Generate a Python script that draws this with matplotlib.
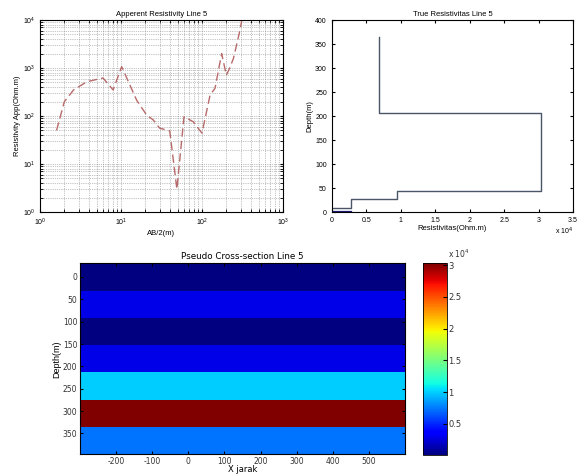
import numpy as np
import matplotlib
matplotlib.use("Agg")
import matplotlib.pyplot as plt
from matplotlib.ticker import FuncFormatter, MultipleLocator

# ---- data ----
ab2 = [1.6, 2.0, 2.6, 3.8, 6.0, 8.0, 10.2, 15.6, 20.7, 25, 30, 40, 49, 60, 78,
       100, 126, 145, 175, 200, 220, 245, 295, 310]
rho_app = [50, 200, 350, 520, 620, 350, 1070, 215, 105, 83, 56, 49, 3, 97, 76,
           44, 275, 380, 2000, 710, 1000, 1600, 6200, 10000]

true_rho = [0, 2800, 9500, 30300, 6900]
layer_depth = [9, 27, 44, 206, 365]
surface_rho = [0, 2800]
surface_depth = [1, 1]

section_x = [-300, 600]
section_depth = [0, 61, 122, 183, 244, 305, 366]
section_rho = [100, 2900, 100, 2900, 9900, 30300, 7300]

plt.rcParams['font.family'] = ['Liberation Sans', 'DejaVu Sans']
plt.rcParams['xtick.direction'] = 'in'
plt.rcParams['ytick.direction'] = 'in'
plt.rcParams['axes.unicode_minus'] = False

fig = plt.figure(figsize=(5.82, 4.74), dpi=100)

# ---- top-left: apparent resistivity ----
ax1 = fig.add_axes([0.0687, 0.5527, 0.4175, 0.405])
ax1.plot(ab2, rho_app, ls=(0, (6, 3)), color='#b86a6a', lw=1.0)
ax1.set_xscale('log')
ax1.set_yscale('log')
ax1.set_xlim(1, 1000)
ax1.set_ylim(1, 10000)
ax1.grid(True, which='both', ls=':', color='#888888', lw=0.5)
ax1.tick_params(labelsize=5, which='both', top=True, right=True, length=2)
ax1.set_title('Apperent Resistivity Line 5', fontsize=5.5, pad=3)
ax1.set_xlabel('AB/2(m)', fontsize=5.5, labelpad=1)
ax1.set_ylabel('Resistivity App(Ohm.m)', fontsize=5.5, labelpad=1)

# ---- top-right: true resistivity ----
ax2 = fig.add_axes([0.570, 0.5527, 0.4146, 0.405])
sx = [true_rho[0]]
sy = [layer_depth[0]]
for i in range(1, len(true_rho)):
    sx += [true_rho[i], true_rho[i]]
    sy += [layer_depth[i - 1], layer_depth[i]]
ax2.plot(sx, sy, color='#4a5568', lw=1.0)
ax2.plot(surface_rho, surface_depth, color='#1a1a70', lw=1.6)
ax2.set_xlim(0, 35000)
ax2.set_ylim(0, 400)
ax2.xaxis.set_major_locator(MultipleLocator(5000))
ax2.yaxis.set_major_locator(MultipleLocator(50))
ax2.xaxis.set_major_formatter(FuncFormatter(lambda v, p: f'{v/1e4:g}'))
ax2.tick_params(labelsize=5, top=True, right=True, length=2)
ax2.set_title('True Resistivitas Line 5', fontsize=5.5, pad=3)
ax2.set_xlabel('Resistivitas(Ohm.m)', fontsize=5.5, labelpad=1)
ax2.set_ylabel('Depth(m)', fontsize=5.5, labelpad=1)
ax2.text(1.0, -0.07, r'x 10$^4$', transform=ax2.transAxes, fontsize=5,
         ha='right', va='top')

# ---- bottom: pseudo cross-section ----
ax3 = fig.add_axes([0.1375, 0.0416, 0.5584, 0.403])
step = section_depth[1] - section_depth[0]
yedges = [d - step / 2 for d in section_depth] + [section_depth[-1] + step / 2]
xedges = section_x
C = np.array(section_rho, dtype=float)[:, None]
mesh = ax3.pcolormesh(xedges, yedges, C, cmap='jet',
                      vmin=min(section_rho), vmax=max(section_rho))
ax3.set_xlim(section_x)
ax3.set_ylim(yedges[-1], yedges[0])
ax3.set_xticks(range(-200, 501, 100))
ax3.set_yticks(range(0, 351, 50))
ax3.tick_params(labelsize=5.5, top=True, right=True, length=2, pad=2,
                labelcolor='#333333')
for t in ax3.get_xticklabels() + ax3.get_yticklabels():
    t.set_family('DejaVu Sans')
ax3.set_title('Pseudo Cross-section Line 5', fontsize=6.3, pad=3,
              family='DejaVu Sans')
ax3.set_xlabel('X jarak', fontsize=6, labelpad=-1, family='DejaVu Sans')
ax3.set_ylabel('Depth(m)', fontsize=6.5, labelpad=1)

cax = fig.add_axes([0.7263, 0.0401, 0.0412, 0.4044])
cb = fig.colorbar(mesh, cax=cax)
cb.set_ticks([5000, 10000, 15000, 20000, 25000, 30000])
cb.set_ticklabels(['0.5', '1', '1.5', '2', '2.5', '3'])
cb.ax.tick_params(labelsize=6, direction='in', length=3, pad=1,
                  labelcolor='#333333')
for t in cb.ax.get_yticklabels():
    t.set_family('DejaVu Sans')
cb.outline.set_linewidth(0.6)
cax.text(1.05, 1.015, r'x 10$^4$', transform=cax.transAxes, fontsize=5.5,
         ha='left', va='bottom', family='DejaVu Sans', color='#333333')

fig.savefig('out.png', dpi=100)
